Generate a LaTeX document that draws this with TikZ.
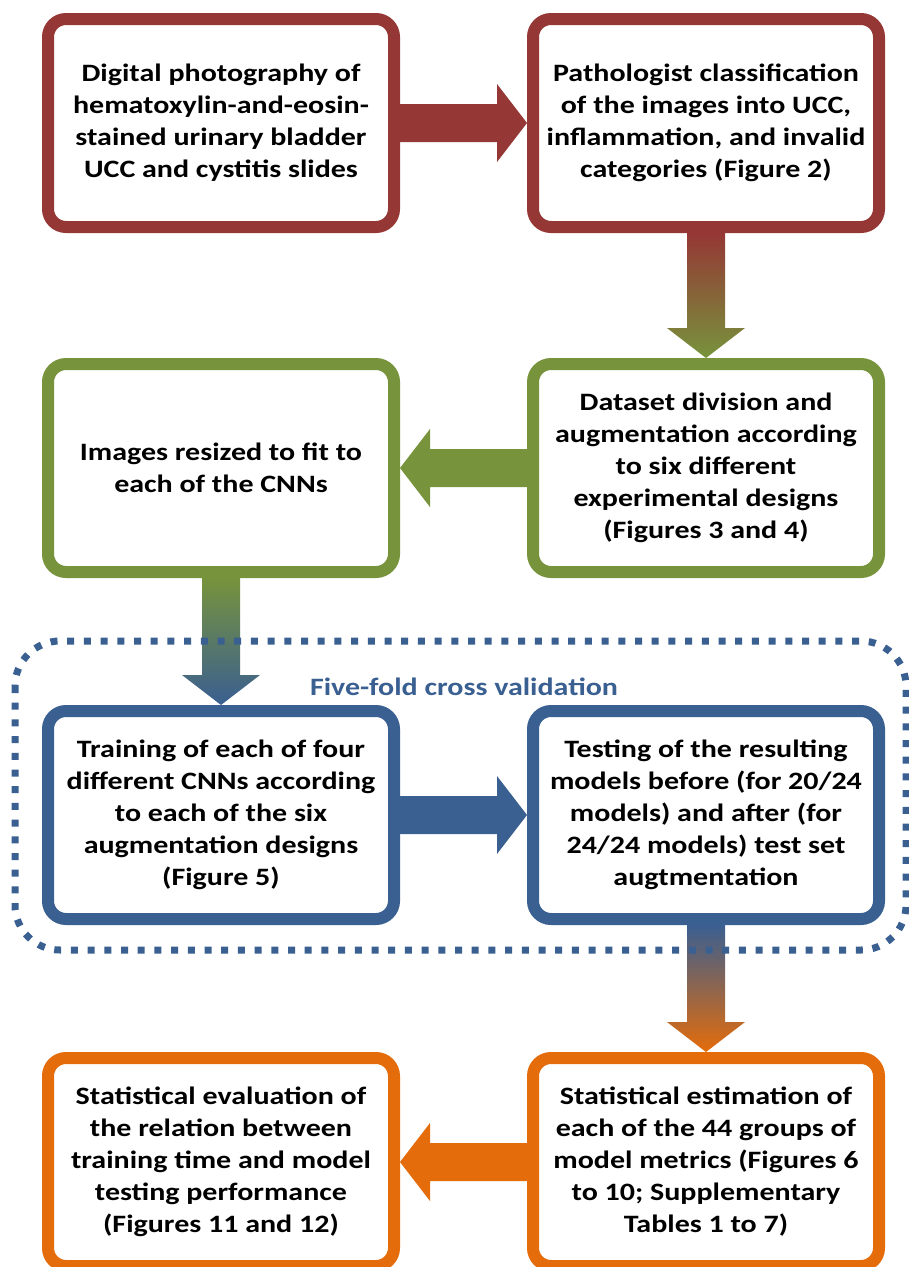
\documentclass[tikz,border=0pt]{standalone}
\usepackage{fontspec}
\setmainfont{Carlito}[FakeStretch=1.2]
\usetikzlibrary{calc}
\definecolor{boxred}{HTML}{953735}
\definecolor{boxgreen}{HTML}{77933C}
\definecolor{boxblue}{HTML}{3A5F91}
\definecolor{boxorange}{HTML}{E46C0A}

% Block arrows from box #1 to box #2
\newcommand{\rightblock}[3]{%
  \fill[#3] ($(#1.east)+(0,-19)$) -- ($(#2.west)+(-30,-19)$) -- ($(#2.west)+(-30,-39)$) -- (#2.west)
    -- ($(#2.west)+(-30,39)$) -- ($(#2.west)+(-30,19)$) -- ($(#1.east)+(0,19)$) -- cycle;}
\newcommand{\leftblock}[3]{%
  \fill[#3] ($(#1.west)+(0,-19)$) -- ($(#2.east)+(30,-19)$) -- ($(#2.east)+(30,-39)$) -- (#2.east)
    -- ($(#2.east)+(30,39)$) -- ($(#2.east)+(30,19)$) -- ($(#1.west)+(0,19)$) -- cycle;}
\newcommand{\downblock}[4]{%
  \shade[top color=#3, bottom color=#4] ($(#1.south)+(-19,0)$) -- ($(#2.north)+(-19,-30)$) -- ($(#2.north)+(-39,-30)$) -- (#2.north)
    -- ($(#2.north)+(39,-30)$) -- ($(#2.north)+(19,-30)$) -- ($(#1.south)+(19,0)$) -- cycle;}

\begin{document}
\begin{tikzpicture}[x=1pt, y=-1pt,
    box/.style={draw, fill=white, line width=12pt, rounded corners=18pt,
      minimum width=346pt, minimum height=208pt, align=center,
      font=\fontsize{25}{32}\selectfont\bfseries},
    cvframe/.style={draw=boxblue, line width=7pt, dash pattern=on 7pt off 9.7pt, rounded corners=45pt}]
    \useasboundingbox (0,0) rectangle (909,1267);
    \def\l{221}
    \def\r{706}
    % Row 1
    \node[box, draw=boxred] (photo) at (\l, 123) {Digital photography of\\hematoxylin-and-eosin-\\stained urinary bladder\\UCC and cystitis slides};
    \node[box, draw=boxred] (classify) at (\r, 123) {Pathologist classification\\of the images into UCC,\\inflammation, and invalid\\categories (Figure 2)};
    % Row 2
    \node[box, draw=boxgreen] (divide) at (\r, 468) {Dataset division and\\augmentation according\\to six different\\experimental designs\\(Figures 3 and 4)};
    \node[box, draw=boxgreen] (resize) at (\l, 468) {Images resized to fit to\\each of the CNNs};
    % Row 3, inside the cross validation
    \node[box, draw=boxblue] (train) at (\l, 815) {Training of each of four\\different CNNs according\\to each of the six\\augmentation designs\\(Figure 5)};
    \node[box, draw=boxblue] (test) at (\r, 815) {Testing of the resulting\\models before (for 20/24\\models) and after (for\\24/24 models) test set\\augtmentation};
    % Row 4
    \node[box, draw=boxorange] (estimate) at (\r, 1162) {Statistical estimation of\\each of the 44 groups of\\model metrics (Figures 6\\to 10; Supplementary\\Tables 1 to 7)};
    \node[box, draw=boxorange] (evaluate) at (\l, 1162) {Statistical evaluation of\\the relation between\\training time and model\\testing performance\\(Figures 11 and 12)};
    % Arrows
    \rightblock{photo}{classify}{boxred}
    \downblock{classify}{divide}{boxred}{boxgreen}
    \leftblock{divide}{resize}{boxgreen}
    \downblock{resize}{train}{boxgreen}{boxblue}
    \rightblock{train}{test}{boxblue}
    \downblock{test}{estimate}{boxblue}{boxorange}
    \leftblock{estimate}{evaluate}{boxorange}
    % Cross validation frame
    \draw[cvframe] (15, 641) rectangle (906, 950);
    \node[text=boxblue, font=\fontsize{25}{32}\selectfont\bfseries] (cvlabel) at (464, 687) {Five-fold cross validation};
\end{tikzpicture}
\end{document}
